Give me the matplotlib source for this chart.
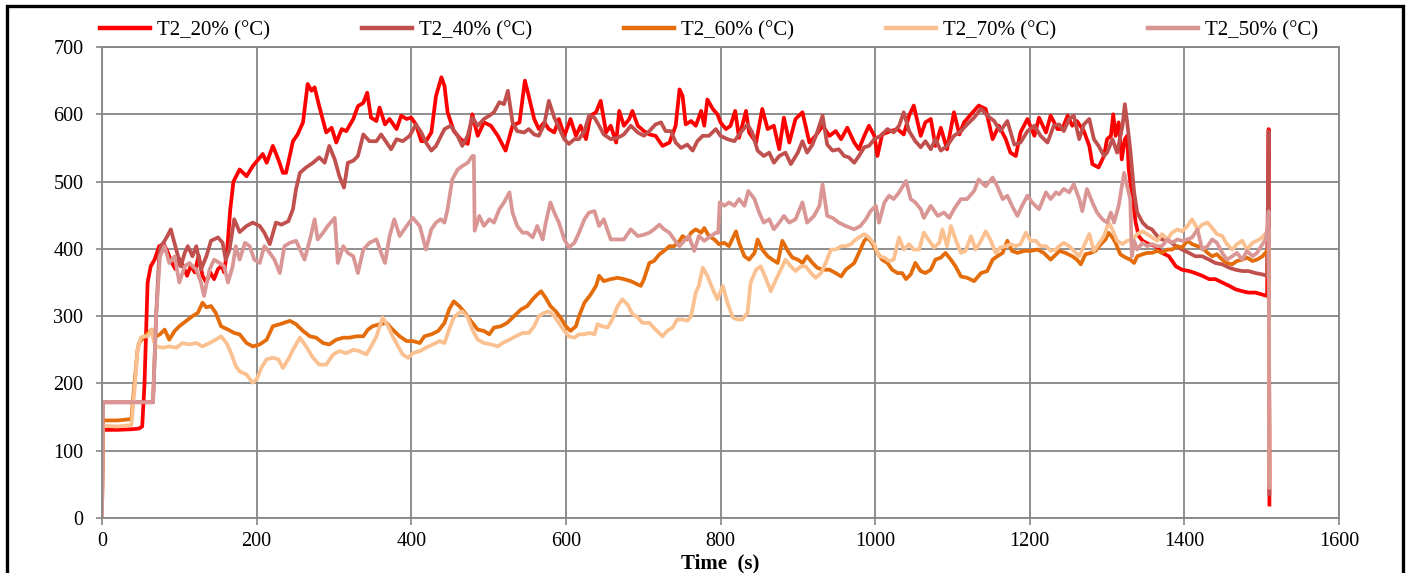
import matplotlib
matplotlib.use("Agg")
import matplotlib.pyplot as plt
from matplotlib.patches import Rectangle

plt.rcParams["font.family"] = ["Liberation Serif", "DejaVu Serif"]

# T2_20% (°C)
time_20 = [0, 1, 20, 40, 48, 52, 55, 59, 63, 68, 74, 80, 85, 90, 95, 100, 105, 110, 115, 120,
           125, 130, 135, 140, 145, 150, 155, 158, 162, 166, 170, 174,
           178, 187, 195, 208, 213, 221, 228, 234, 238, 247, 253, 260, 266, 271, 275, 281, 290,
           297, 303, 310, 316, 325, 331, 338, 343, 348, 355, 359, 366, 372, 381, 387, 394, 400,
           406, 413, 419, 426, 432, 439,
           443, 447, 455, 464, 473, 479, 486, 494, 503, 512, 522, 531, 540, 547, 552, 559, 565,
           572, 578, 585, 591, 598, 606, 613, 619, 626, 632, 639, 645, 652, 658, 665, 669, 675,
           682, 686, 693, 701,
           708, 716, 725, 734, 742, 747, 751, 755, 762, 768, 775, 779, 783, 790, 796, 800, 807,
           813, 819, 824, 833, 837, 846, 854, 861, 869, 876, 882, 889, 897, 906, 915, 923, 932,
           941, 949, 956, 964,
           973, 979, 986, 992, 999, 1003, 1009, 1020, 1029, 1037, 1044, 1050, 1059, 1065, 1072,
           1078, 1085, 1093, 1102, 1109, 1115, 1124, 1134, 1143, 1152, 1160, 1169, 1175, 1182,
           1188, 1197, 1206, 1212, 1221, 1227, 1236,
           1242, 1249, 1255, 1261, 1270, 1277, 1281, 1289, 1296, 1300, 1305, 1308, 1311, 1315,
           1319, 1323, 1326, 1328, 1333, 1337, 1341, 1346, 1354, 1363, 1371, 1380, 1389, 1397,
           1406, 1414, 1423, 1432, 1440, 1449, 1458, 1466, 1475, 1483, 1492, 1501, 1507, 1509, 1510]
temp_20 = [0, 131, 131, 132, 133, 136, 200, 350, 374, 384, 404, 407, 395, 380, 370, 385, 375, 360, 375, 365,
           390, 360, 350, 365, 355, 370, 375, 365, 400, 460, 500, 509,
           518, 508, 523, 541, 528, 553, 533, 513, 513, 560, 570, 588, 645, 635, 640, 612, 573,
           580, 558, 578, 575, 593, 612, 617, 632, 595, 590, 610, 585, 593, 578, 598, 593, 595,
           585, 560, 560, 573, 627, 655,
           642, 603, 575, 563, 556, 600, 568, 588, 583, 568, 546, 583, 588, 650, 627, 593, 578,
           588, 578, 573, 593, 568, 593, 568, 583, 563, 598, 603, 620, 573, 583, 558, 605, 583,
           593, 605, 583, 575,
           570, 568, 553, 558, 583, 637, 627, 585, 590, 583, 605, 583, 622, 608, 600, 588, 578,
           583, 605, 565, 605, 573, 558, 608, 578, 583, 548, 595, 558, 593, 603, 558, 568, 583,
           568, 575, 563, 580,
           558, 548, 568, 583, 568, 538, 570, 575, 578, 570, 598, 613, 568, 588, 593,
           553, 580, 548, 603, 570, 588, 600, 613, 608, 563, 583, 563, 543, 538,
           573, 593, 568, 595, 573, 598, 578,
           578, 598, 583, 590, 575, 553, 526, 521, 538, 563, 568, 600, 568, 588,
           533, 563, 568, 518, 474, 439, 419, 412, 407, 404, 394, 389, 374, 369,
           367, 364, 360, 355, 355, 350, 345, 340, 337, 335, 335, 332, 330, 578, 20]

# T2_40% (°C)
time_40 = [0, 1, 66, 70, 74, 76, 80, 85, 89, 96, 102, 107, 111, 117, 122, 128, 135, 141, 150,
           156, 160, 165, 171,
           178, 187, 195, 204, 210, 217, 225, 232, 241, 247, 251, 256, 264, 273, 281, 288, 294,
           301, 307, 313, 318, 325, 331, 338, 346, 355, 361, 368, 374, 381, 389, 398, 406, 413,
           419, 426, 432,
           443, 451, 460, 466, 473, 479, 486, 494, 501, 507, 514, 520, 525, 531, 537, 546, 552,
           559, 565, 572, 578, 585, 591, 598, 604, 611, 617, 624, 630, 637, 643, 649, 658, 667,
           675, 684, 693, 701,
           708, 716, 723, 729, 736, 742, 749, 757, 764, 770, 777, 785, 794, 800, 809, 818, 826,
           835, 841, 848, 856, 863, 869, 876, 884, 891, 900, 906, 912, 919, 925, 932, 938, 945,
           953, 960, 966,
           973, 979, 986, 992, 999, 1007, 1016, 1024, 1031, 1037, 1044, 1052, 1059, 1065, 1072,
           1078, 1085, 1093, 1102, 1111, 1119, 1128, 1137, 1145, 1154, 1162, 1171, 1180, 1188,
           1197, 1206, 1214, 1223, 1231,
           1238, 1244, 1251, 1257, 1264, 1270, 1277, 1283, 1289, 1296, 1300, 1307, 1313, 1320,
           1323, 1326, 1330, 1335, 1339, 1346, 1352, 1358, 1365, 1371, 1380, 1389, 1397, 1406,
           1414, 1423, 1432, 1440, 1449, 1458, 1466, 1475, 1483, 1492, 1501, 1507, 1509, 1510]
temp_40 = [0, 172, 172, 300, 390, 404, 410, 420, 429, 399, 374, 394, 404, 389, 404, 369, 389, 412, 417,
           409, 384, 399, 444,
           425, 434, 439, 434, 424, 407, 439, 436, 441, 459, 489, 513, 521, 528, 536, 528, 553,
           533, 508, 491, 528, 531, 538, 570, 560, 560, 570, 558, 548, 563, 560, 568, 585, 573,
           558, 546, 553,
           578, 583, 568, 553, 568, 595, 583, 593, 598, 603, 618, 615, 635, 588, 575, 573, 578,
           570, 568, 585, 620, 595, 580, 563, 556, 563, 563, 575, 598, 595, 583, 570, 563, 565,
           570, 583, 573, 568,
           575, 585, 588, 575, 575, 558, 550, 555, 546, 560, 568, 568, 578, 568, 563, 560, 573,
           585, 573, 546, 538, 543, 528, 538, 543, 526, 543, 560, 543, 555, 573, 598, 555, 546,
           548, 538, 536,
           528, 538, 551, 553, 563, 568, 578, 573, 583, 603, 575, 560, 551, 560, 548,
           563, 546, 553, 568, 575, 585, 595, 608, 598, 590, 575, 590, 555, 558,
           575, 583, 568, 558, 583,
           585, 575, 593, 598, 563, 585, 593, 563, 553, 538, 543, 563, 543, 583,
           615, 588, 548, 484, 454, 439, 432, 429, 419, 414, 412, 404, 399, 394,
           389, 389, 384, 379, 377, 372, 369, 367, 367, 364, 362, 360, 575, 35]

# T2_60% (°C)
time_60 = [0, 1, 20, 38, 42, 46, 48, 55, 64, 70, 75, 81, 87, 94, 100, 109, 117, 124, 130, 135,
           141, 147, 154, 163, 171,
           178, 187, 195, 204, 213, 221, 230, 243, 251, 260, 269, 277, 286, 294, 303, 312, 320,
           329, 338, 344, 350, 359, 368, 376, 385, 394, 402, 411, 417, 426, 435,
           443, 449, 455, 462, 468, 477, 486, 494, 501, 507, 516, 524, 533, 542, 550, 557, 561,
           568, 574, 580, 587, 593, 600, 606, 613, 617, 624, 632, 639, 643, 649, 658, 667, 675,
           684, 693, 697, 701,
           708, 714, 721, 727, 734, 740, 747, 751, 757, 762, 768, 775, 779, 785, 792, 798, 805,
           811, 820, 824, 831, 837, 844, 848, 854, 861, 867, 874, 880, 887, 893, 900, 906, 912,
           919, 925, 932, 941, 949, 956, 962,
           973, 979, 986, 990, 996, 1003, 1009, 1016, 1022, 1029, 1035, 1040, 1046, 1052, 1059,
           1065, 1072, 1078, 1085, 1091, 1098, 1104, 1111, 1119, 1128, 1137, 1145, 1152, 1158,
           1165, 1171, 1177, 1184, 1193, 1201, 1210, 1218, 1227, 1236,
           1238, 1246, 1255, 1261, 1266, 1272, 1279, 1285, 1292, 1298, 1302, 1307, 1311, 1317,
           1324, 1330, 1335, 1339, 1346, 1352, 1358, 1365, 1371, 1378, 1384, 1391, 1397, 1404,
           1410, 1417, 1423, 1430, 1436, 1442, 1449, 1455, 1462, 1468, 1475, 1481, 1488, 1494,
           1501, 1507, 1509, 1510]
temp_60 = [0, 145, 145, 147, 200, 250, 260, 270, 280, 270, 273, 280, 265, 278, 285, 293, 300, 305, 320, 313,
           315, 305, 285, 280, 275,
           273, 260, 255, 258, 265, 285, 288, 293, 288, 278, 270, 268, 260, 258, 265, 268, 268,
           270, 270, 280, 285, 288, 290, 280, 270, 263, 263, 260, 270, 273, 278,
           290, 310, 322, 315, 307, 293, 280, 278, 273, 283, 285, 290, 300, 310, 315, 325, 330,
           337, 327, 315, 307, 298, 285, 278, 285, 300, 320, 332, 345, 360, 352, 355, 357, 355,
           352, 347, 345, 355,
           379, 382, 392, 397, 404, 404, 412, 419, 414, 424, 429, 424, 431, 419, 414, 407, 409,
           404, 426, 409, 389, 384, 394, 414, 399, 389, 384, 379, 412, 397, 387, 384, 379, 389,
           379, 372, 369, 369, 364, 359, 369,
           379, 394, 412, 417, 409, 394, 384, 379, 369, 364, 364, 355, 362, 379, 367,
           364, 369, 384, 387, 394, 384, 374, 359, 357, 352, 364, 367, 384, 389,
           394, 412, 397, 394, 397, 397, 399, 394, 384, 394,
           397, 394, 389, 384, 377, 392, 394, 397, 407, 414, 424, 417, 409, 392,
           387, 384, 379, 389, 392, 394, 394, 397, 394, 399, 399, 404, 402, 412,
           407, 404, 402, 394, 389, 392, 384, 379, 377, 382, 384, 387, 382, 384,
           389, 397, 400, 60]

# T2_70% (°C)
time_70 = [0, 1, 20, 38, 42, 46, 50, 55, 59, 64, 67, 70, 79, 87, 96, 104, 113, 122, 130, 139,
           147, 154, 161, 167, 173,
           178, 187, 195, 200, 206, 213, 221, 228, 234, 241, 247, 256, 264, 273, 281, 290, 299,
           307, 316, 325, 333, 342, 348, 355, 363, 370, 376, 383, 389, 396, 402, 411, 419, 428, 437,
           443, 449, 455, 462, 466, 473, 479, 486, 494, 503, 512, 518, 527, 535, 544, 552, 559,
           565, 572, 578, 585, 591, 598, 604, 611, 617, 624, 630, 637, 641, 647, 654, 660, 667,
           673, 680, 686, 693, 699,
           708, 716, 725, 731, 738, 744, 751, 757, 762, 768, 772, 777, 783, 790, 796, 803, 809,
           816, 822, 828, 835, 839, 846, 852, 859, 865, 872, 878, 884, 891, 897, 904, 910, 917,
           923, 930, 936, 943, 949, 956, 962, 969,
           973, 979, 986, 992, 999, 1005, 1012, 1018, 1024, 1031, 1037, 1044, 1050, 1057, 1063,
           1070, 1076, 1083, 1087, 1093, 1098, 1104, 1111, 1117, 1124, 1130, 1137, 1143, 1149,
           1156, 1162, 1169, 1175, 1182, 1188, 1195, 1201, 1208, 1214, 1221, 1227, 1234,
           1238, 1244, 1251, 1257, 1264, 1270, 1277, 1283, 1289, 1296, 1302, 1307, 1313, 1320,
           1326, 1333, 1339, 1346, 1352, 1358, 1365, 1371, 1378, 1384, 1391, 1397, 1404, 1410,
           1417, 1423, 1430, 1436, 1442, 1449, 1455, 1462, 1468, 1475, 1481, 1488, 1494, 1501,
           1507, 1509, 1510]
temp_70 = [0, 137, 136, 138, 190, 250, 268, 270, 270, 280, 262, 255, 253, 255, 253, 260, 258, 260, 255, 260,
           265, 270, 260, 245, 226,
           218, 213, 201, 206, 223, 236, 238, 236, 223, 236, 250, 268, 255, 238, 228, 228, 243,
           248, 245, 250, 248, 243, 255, 270, 298, 285, 270, 255, 243, 238, 245, 248, 253, 258, 263,
           260, 280, 298, 305, 307, 298, 280, 265, 260, 258, 255, 260, 265, 270, 275, 275, 285,
           300, 305, 307, 300, 290, 278, 270, 268, 273, 273, 275, 273, 288, 285, 283, 295, 315,
           325, 317, 303, 298, 290,
           290, 280, 270, 278, 283, 295, 295, 293, 300, 335, 345, 372, 360, 340, 325, 345, 320,
           298, 295, 295, 305, 350, 369, 374, 355, 337, 355, 369, 384, 374, 367, 374, 374, 364,
           357, 364, 379, 399, 399, 404, 404, 407,
           412, 417, 422, 417, 407, 389, 387, 382, 384, 417, 399, 407, 399, 399, 424,
           412, 402, 409, 429, 404, 434, 414, 394, 397, 419, 399, 412, 426, 414,
           394, 402, 404, 407, 404, 407, 424, 412, 412, 404, 404, 397, 399,
           404, 409, 404, 397, 389, 404, 422, 397, 407, 419, 439, 429, 412, 407,
           412, 414, 422, 426, 422, 417, 412, 422, 414, 424, 429, 426, 434, 444,
           429, 436, 439, 431, 422, 419, 407, 399, 407, 412, 399, 409, 412, 417,
           426, 430, 50]

# T2_50% (°C)
time_50 = [0, 1, 66, 70, 75, 81, 87, 94, 100, 107, 113, 122, 128, 132, 139, 145, 152, 158, 163,
           169, 173,
           178, 185, 191, 197, 204, 210, 217, 223, 230, 236, 243, 251, 258, 262, 269, 275, 279,
           286, 292, 301, 305, 312, 318, 325, 331, 338, 346, 355, 361, 366, 372, 378, 385, 394,
           402, 411, 419, 426, 432, 438,
           443, 447, 453, 460, 466, 473, 479, 481, 482, 488, 494, 501, 507, 514, 520, 527, 531,
           537, 544, 550, 557, 563, 570, 574, 580, 585, 591, 598, 604, 611, 617, 624, 630, 637,
           643, 649, 658, 667, 675, 684, 693, 701,
           708, 714, 721, 727, 734, 740, 747, 753, 759, 766, 772, 779, 785, 794, 797, 799, 805,
           811, 818, 824, 831, 836, 844, 850, 856, 863, 869, 876, 882, 889, 897, 906, 912, 921,
           928, 932, 938, 945, 953, 962,
           973, 981, 988, 994, 1001, 1005, 1012, 1018, 1024, 1031, 1040, 1046, 1052, 1059, 1063,
           1072, 1081, 1089, 1096, 1102, 1111, 1119, 1128, 1134, 1143, 1152, 1158, 1165, 1171,
           1177, 1184, 1190, 1197, 1203, 1212, 1221, 1227, 1234,
           1238, 1244, 1251, 1257, 1264, 1268, 1274, 1281, 1287, 1294, 1300, 1305, 1309, 1315,
           1322, 1326, 1330, 1332, 1335, 1339, 1346, 1352, 1358, 1365, 1371, 1378, 1384, 1391,
           1397, 1404, 1410, 1417, 1423, 1430, 1436, 1442, 1449, 1455, 1462, 1468, 1475, 1481,
           1488, 1494, 1501, 1505, 1508, 1509, 1510]
temp_50 = [0, 172, 172, 300, 389, 404, 379, 389, 350, 374, 379, 369, 350, 330, 369, 384, 379, 374, 350,
           374, 404,
           384, 409, 404, 384, 379, 404, 394, 384, 364, 404, 409, 412, 394, 384, 414, 444, 414,
           424, 434, 446, 379, 404, 394, 389, 364, 399, 409, 414, 394, 379, 419, 444, 419, 434,
           446, 434, 399, 429, 439, 444,
           439, 459, 503, 518, 523, 528, 538, 538, 427, 449, 434, 444, 439, 459, 469, 484, 454,
           434, 424, 424, 417, 434, 414, 439, 469, 454, 439, 414, 402, 409, 424, 444, 454, 456,
           434, 444, 414, 414, 414, 429, 419, 421,
           424, 429, 436, 429, 424, 414, 404, 412, 419, 397, 419, 412, 417, 424, 424, 469, 464,
           469, 464, 474, 464, 486, 474, 454, 439, 444, 429, 439, 449, 439, 444, 469, 439, 449,
           464, 496, 449, 446, 439, 434,
           429, 434, 444, 456, 464, 439, 469, 479, 474, 484, 501, 474, 469, 459, 446,
           464, 449, 454, 446, 459, 474, 474, 486, 503, 493, 506, 493, 474, 479,
           464, 449, 464, 479, 469, 459, 484, 474, 484,
           481, 489, 484, 496, 474, 456, 489, 469, 454, 444, 439, 454, 439, 464,
           513, 493, 474, 389, 412, 399, 409, 404, 407, 404, 404, 414, 409, 414,
           412, 414, 417, 429, 399, 404, 414, 409, 394, 384, 389, 394, 384, 397,
           389, 394, 407, 414, 434, 456, 45]

labels = ["T2_20% (°C)", "T2_40% (°C)", "T2_60% (°C)", "T2_70% (°C)", "T2_50% (°C)"]
colors = ["#FF0000", "#C0504D", "#E46C0A", "#FAC090", "#D99694"]
series = [(time_20, temp_20), (time_40, temp_40), (time_60, temp_60),
          (time_70, temp_70), (time_50, temp_50)]

W, H = 1409, 573
fig = plt.figure(figsize=(W / 100, H / 100), dpi=100)
ax = fig.add_axes([102 / W, 1 - 518 / H, (1339 - 102) / W, (518 - 47) / H])

for (t, v), lab, c in zip(series, labels, colors):
    ax.plot(t, v, color=c, lw=2.7, label=lab, solid_joinstyle="round")

ax.set_xlim(0, 1600)
ax.set_ylim(0, 700)
ax.set_xticks(range(0, 1601, 200))
ax.set_yticks(range(0, 701, 100))
ax.grid(True, color="#868686", lw=1.3)
ax.set_axisbelow(True)
for s in ax.spines.values():
    s.set_color("#868686")
    s.set_linewidth(1.3)
ax.tick_params(axis="x", direction="out", length=5, width=1.2, color="#868686",
               labelsize=14.5, pad=5)
ax.tick_params(axis="y", direction="out", length=4.5, width=1.2, color="#868686",
               labelsize=14.5, pad=9)
ax.set_xlabel("Time  (s)", fontsize=15, fontweight="bold", labelpad=2)

leg = ax.legend(loc="center left", bbox_to_anchor=(100 / W, 1 - 31 / H),
                bbox_transform=fig.transFigure, ncol=5, frameon=False, fontsize=15,
                handlelength=2.4, handletextpad=0.33, columnspacing=4.42,
                borderpad=0, borderaxespad=0)
for h in leg.get_lines():
    h.set_linewidth(3.2)

# outer frame of the original chart area
fig.patches.append(Rectangle((6.5 / W, -0.1), (1403 - 6.5) / W, 1.1 - 6.5 / H,
                             transform=fig.transFigure, fill=False, ec="black", lw=2.4))

fig.savefig("out.png", dpi=100)
